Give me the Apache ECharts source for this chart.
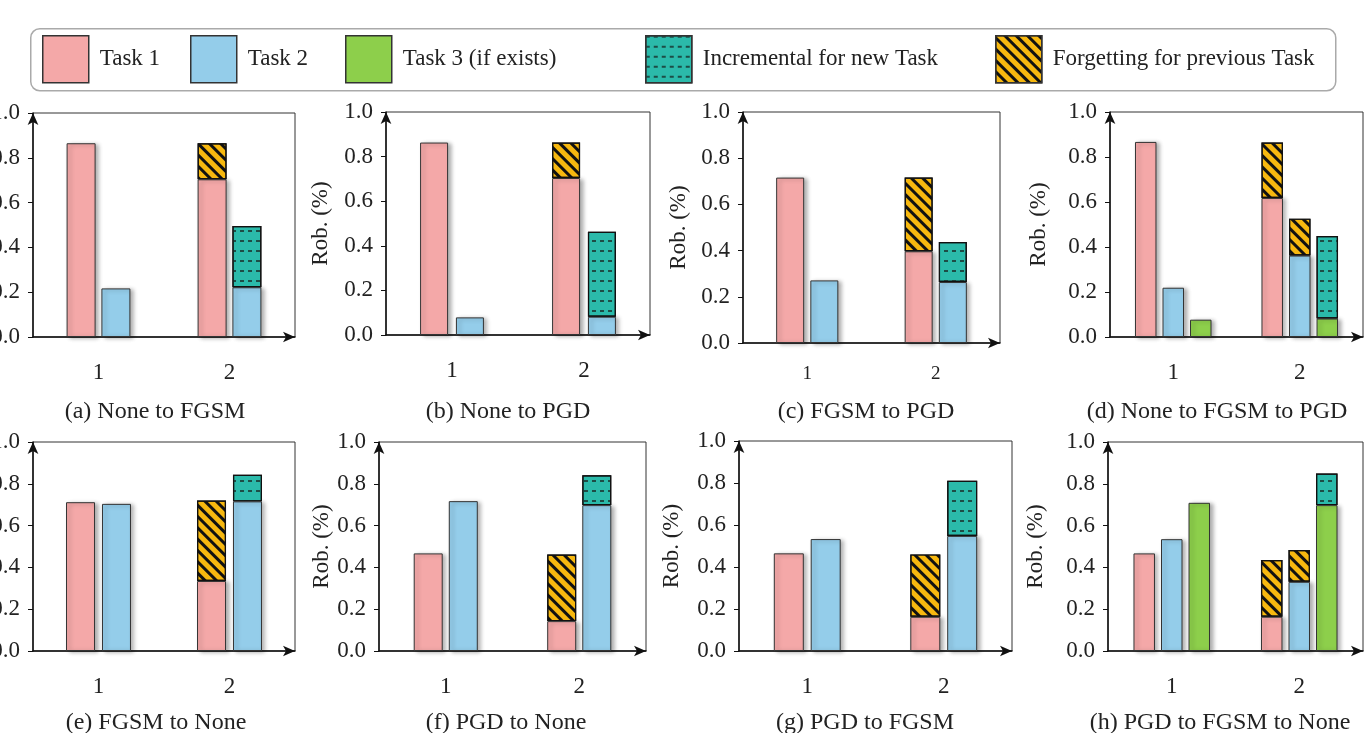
<!DOCTYPE html>
<html>
<head>
<meta charset="utf-8">
<script src="https://cdn.jsdelivr.net/npm/echarts@6/dist/echarts.min.js"></script>
<style>
html,body{margin:0;padding:0;background:#fff;}
#chart{width:1369px;height:733px;}
</style>
</head>
<body>
<div id="chart"></div>
<script>
// ---------- data ----------
const categories = ['1', '2'];
const yTicks = [0, 0.2, 0.4, 0.6, 0.8, 1.0];
const taskNames = ['Task 1', 'Task 2', 'Task 3 (if exists)'];
const incrName = 'Incremental for new Task';
const forgetName = 'Forgetting for previous Task';
const titles = ['(a) None to FGSM', '(b) None to PGD', '(c) FGSM to PGD', '(d) None to FGSM to PGD',
                '(e) FGSM to None', '(f) PGD to None', '(g) PGD to FGSM', '(h) PGD to FGSM to None'];

// base values per task, and height of the forgetting / incremental segment on top (category 2)
const a_task1 = [0.865, 0.704], a_task2 = [0.217, 0.222];
const a_top1 = [null, 0.161],   a_top2 = [null, 0.273];
const b_task1 = [0.863, 0.704], b_task2 = [0.079, 0.082];
const b_top1 = [null, 0.159],   b_top2 = [null, 0.381];
const c_task1 = [0.716, 0.397], c_task2 = [0.271, 0.264];
const c_top1 = [null, 0.319],   c_top2 = [null, 0.173];
const d_task1 = [0.867, 0.618], d_task2 = [0.219, 0.362], d_task3 = [0.077, 0.082];
const d_top1 = [null, 0.246],   d_top2 = [null, 0.164],   d_top3 = [null, 0.367];
const e_task1 = [0.712, 0.335], e_task2 = [0.704, 0.716];
const e_top1 = [null, 0.385],   e_top2 = [null, 0.127];
const f_task1 = [0.467, 0.143], f_task2 = [0.717, 0.698];
const f_top1 = [null, 0.319],   f_top2 = [null, 0.143];
const g_task1 = [0.465, 0.163], g_task2 = [0.533, 0.548];
const g_top1 = [null, 0.297],   g_top2 = [null, 0.263];
const h_task1 = [0.467, 0.164], h_task2 = [0.535, 0.331], h_task3 = [0.709, 0.698];
const h_top1 = [null, 0.271],   h_top2 = [null, 0.152],   h_top3 = [null, 0.151];

const panelTasks = [[a_task1, a_task2], [b_task1, b_task2], [c_task1, c_task2], [d_task1, d_task2, d_task3],
                    [e_task1, e_task2], [f_task1, f_task2], [g_task1, g_task2], [h_task1, h_task2, h_task3]];
const panelTops = [[a_top1, a_top2], [b_top1, b_top2], [c_top1, c_top2], [d_top1, d_top2, d_top3],
                   [e_top1, e_top2], [f_top1, f_top2], [g_top1, g_top2], [h_top1, h_top2, h_top3]];

// ---------- layout / style ----------
const grids = [
  {left: 33,   top: 113, width: 262, height: 224},
  {left: 386,  top: 112, width: 264, height: 223},
  {left: 743,  top: 112, width: 257, height: 231},
  {left: 1110, top: 112, width: 253, height: 225},
  {left: 33,   top: 442, width: 262, height: 209},
  {left: 379,  top: 442, width: 267, height: 209},
  {left: 739,  top: 441, width: 273, height: 210},
  {left: 1108, top: 442, width: 255, height: 209}
];
const barW = [29, 28, 28, 21.5, 29, 29, 30, 21.5];
const barGapPct = ['20%', '28%', '22%', '28%', '24%', '21%', '23%', '28%'];
const nameGaps = [54, 54, 53, 60, 54, 46, 56, 61];
const xLabelSize = [23, 23, 19, 23, 23, 23, 23, 23];
const xLabelMargin = [24, 24, 22, 24, 24, 24, 24, 24];
const titleX = [150, 503, 861, 1212, 151, 501, 860, 1215];
const titleY = [395, 395, 395, 395, 706, 706, 706, 706];

const FONT = '"Liberation Serif", "Times New Roman", serif';
const taskColors = ['#F4A8A8', '#94CDEA', '#8DCF4B'];
const incrColor = '#2BBAAA';
const forgetColor = '#F7B80F';
const edge = '#333';
const shadow = {shadowColor: 'rgba(0,0,0,0.3)', shadowBlur: 4, shadowOffsetX: 3, shadowOffsetY: 1};
const forgetDecal = {symbol: 'rect', symbolSize: 1, dashArrayX: [[1, 0]], dashArrayY: [2.6, 4.4], rotation: Math.PI / 4, color: '#111'};
const incrDecal = {symbol: 'rect', symbolSize: 1, dashArrayX: [4, 3.5], dashArrayY: [1.4, 8], rotation: 0, color: '#1d4d46'};

const grid = [], xAxis = [], yAxis = [], series = [], title = [];
grids.forEach((g, i) => {
  grid.push(Object.assign({show: true, borderColor: edge, borderWidth: 1, backgroundColor: '#fff',
    containLabel: false, outerBoundsMode: 'none'}, g));
  xAxis.push({
    type: 'category', gridIndex: i, data: categories,
    axisLine: {show: true, lineStyle: {color: '#111', width: 1.5}, symbol: ['none', 'arrow'], symbolSize: [8, 12]},
    axisTick: {show: false},
    axisLabel: {fontFamily: FONT, fontSize: xLabelSize[i], color: '#222', margin: xLabelMargin[i]}
  });
  yAxis.push({
    type: 'value', gridIndex: i, min: 0, max: 1, interval: 0.2,
    name: 'Rob. (%)', nameLocation: 'middle', nameRotate: 90, nameGap: nameGaps[i],
    nameTextStyle: {fontFamily: FONT, fontSize: 23, color: '#222'},
    splitLine: {show: false},
    axisLine: {show: true, lineStyle: {color: '#111', width: 1.5}, symbol: ['none', 'arrow'], symbolSize: [8, 12]},
    axisTick: {show: true, inside: false, length: 5, lineStyle: {color: '#111'}},
    axisLabel: {fontFamily: FONT, fontSize: 23, color: '#222', margin: 13,
      formatter: v => yTicks.includes(v) ? v.toFixed(1) : ''}
  });
  title.push({
    text: titles[i], left: titleX[i], top: titleY[i], textAlign: 'center',
    textStyle: {fontFamily: FONT, fontSize: 24, fontWeight: 'normal', color: '#222'}
  });
  const tasks = panelTasks[i], tops = panelTops[i];
  const n = tasks.length;
  tasks.forEach((vals, k) => {
    const stack = 'p' + i + 's' + k;
    series.push({
      type: 'bar', name: taskNames[k], xAxisIndex: i, yAxisIndex: i, stack: stack,
      barWidth: barW[i], barGap: barGapPct[i],
      data: vals.map(v => v == null ? '-' : v),
      itemStyle: Object.assign({color: taskColors[k], borderColor: edge, borderWidth: 1}, shadow),
      emphasis: {disabled: true}, animation: false
    });
    const isForget = k < n - 1;
    series.push({
      type: 'bar', name: isForget ? forgetName : incrName, xAxisIndex: i, yAxisIndex: i, stack: stack,
      barWidth: barW[i], barGap: barGapPct[i],
      data: tops[k].map(v => v == null ? '-' : v),
      itemStyle: {color: isForget ? forgetColor : incrColor, borderColor: '#111', borderWidth: 1.2,
        decal: isForget ? forgetDecal : incrDecal},
      emphasis: {disabled: true}, animation: false
    });
  });
});

const legendNames = ['Task 1', 'Task 2', 'Task 3 (if exists)', incrName, forgetName];
const legendX = [42, 190, 345, 645, 995];
const legend = legendNames.map((nm, j) => ({
  data: [nm], left: legendX[j], top: 35, icon: 'rect', itemWidth: 46, itemHeight: 47, padding: 0,
  selectedMode: false,
  itemStyle: {borderColor: edge, borderWidth: 1.5, shadowBlur: 0, shadowOffsetX: 0, shadowOffsetY: 0},
  textStyle: {fontFamily: FONT, fontSize: 23, color: '#222', padding: [0, 0, 0, 6]}
}));

const chart = echarts.init(document.getElementById('chart'), null, {renderer: 'canvas'});
chart.setOption({
  backgroundColor: '#fff',
  animation: false,
  aria: {enabled: false},
  title: title,
  legend: legend,
  grid: grid, xAxis: xAxis, yAxis: yAxis, series: series,
  graphic: [{
    type: 'rect', left: 30, top: 28, z: -10, silent: true,
    shape: {width: 1305, height: 62, r: 9},
    style: {fill: '#fff', stroke: '#aaa', lineWidth: 1.5}
  }]
});
</script>
</body>
</html>
